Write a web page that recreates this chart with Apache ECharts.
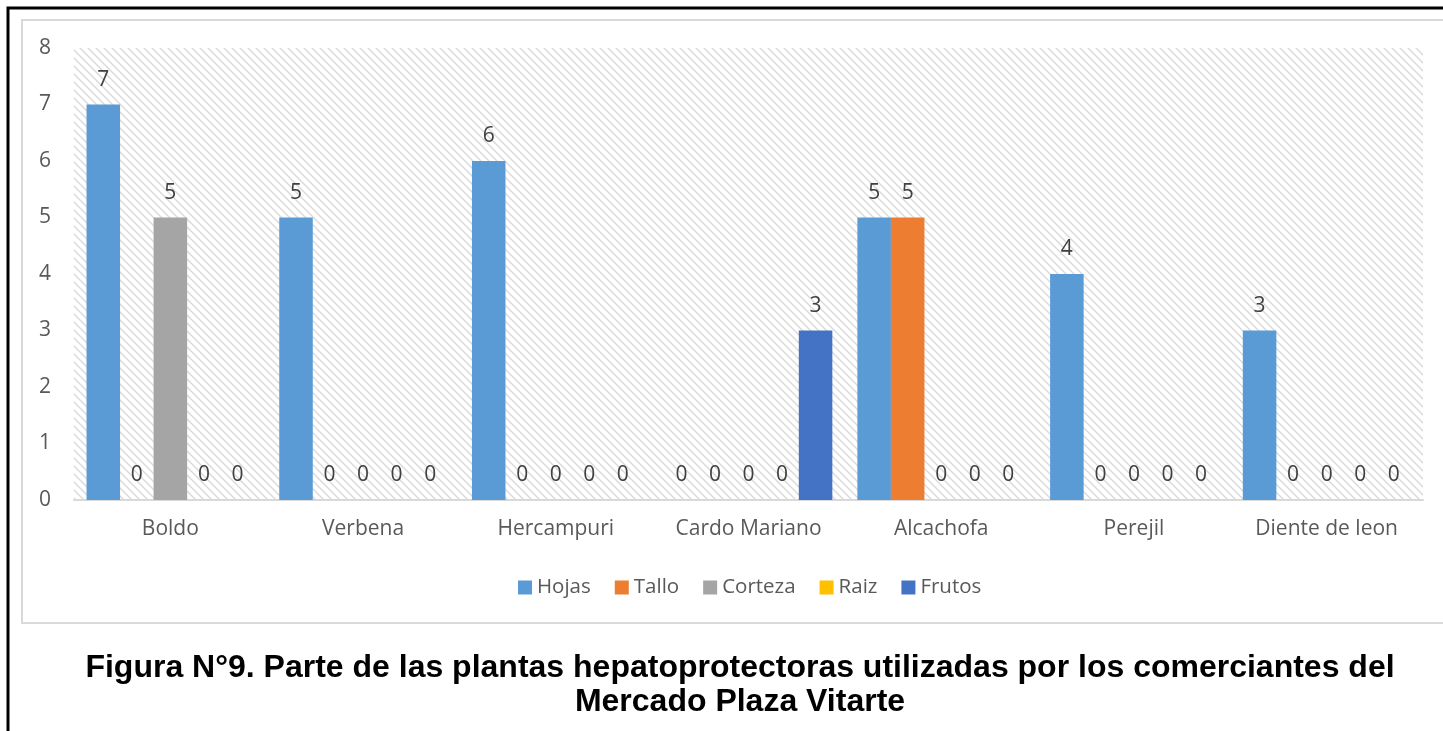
<!DOCTYPE html>
<html><head><meta charset="utf-8">
<script src="https://cdn.jsdelivr.net/npm/echarts@6/dist/echarts.min.js"></script>
<style>html,body{margin:0;padding:0;background:#fff}#c{width:1443px;height:731px}</style>
</head><body><div id="c"></div>
<script>
const categories = ['Boldo','Verbena','Hercampuri','Cardo Mariano','Alcachofa','Perejil','Diente de leon'];
const hojas   = [7,5,6,0,5,4,3];
const tallo   = [0,0,0,0,5,0,0];
const corteza = [5,0,0,0,0,0,0];
const raiz    = [0,0,0,0,0,0,0];
const frutos  = [0,0,0,3,0,0,0];
const seriesNames = ['Hojas','Tallo','Corteza','Raiz','Frutos'];
const seriesData = [hojas,tallo,corteza,raiz,frutos];
const colors = ['#5B9BD5','#ED7D31','#A5A5A5','#FFC000','#4472C4'];
const yTicks = [0,1,2,3,4,5,6,7,8];

// hatch pattern
const pc = document.createElement('canvas');
pc.width = 8; pc.height = 8;
const g = pc.getContext('2d');
g.fillStyle = '#ffffff'; g.fillRect(0,0,8,8);
g.strokeStyle = '#d9d9d9'; g.lineWidth = 1.4;
g.beginPath();
g.moveTo(0,0); g.lineTo(8,8);
g.moveTo(-4,4); g.lineTo(4,12);
g.moveTo(4,-4); g.lineTo(12,4);
g.stroke();

const font = 'Open Sans';
const chart = echarts.init(document.getElementById('c'));
chart.setOption({
  animation: false,
  color: colors,
  textStyle: {fontFamily: font},
  grid: {left: 74, right: 20, top: 48, bottom: 231, show: true, borderWidth: 0,
         backgroundColor: {image: pc, repeat: 'repeat'}},
  xAxis: {type: 'category', data: categories,
    axisLine: {lineStyle: {color: '#d9d9d9', width: 2}}, axisTick: {show: false},
    axisLabel: {color: '#595959', fontSize: 21, margin: 19, fontFamily: font}},
  yAxis: {type: 'value', min: 0, max: 8, interval: 1,
    axisLine: {show: false}, axisTick: {show: false}, splitLine: {show: false},
    axisLabel: {color: '#595959', fontSize: 21, margin: 29, align: 'center',
      formatter: v => String(yTicks[v])}},
  legend: {data: seriesNames, top: 572, left: 513, itemWidth: 14, itemHeight: 14,
    itemGap: 24, icon: 'rect', textStyle: {color: '#595959', fontSize: 20.5, fontFamily: font}},
  title: {text: 'Figura N°9. Parte de las plantas hepatoprotectoras utilizadas por los comerciantes del\nMercado Plaza Vitarte',
    left: 735, top: 646, textAlign: 'center',
    textStyle: {fontFamily: 'Liberation Sans', fontWeight: 'bold', fontSize: 32, color: '#000', lineHeight: 34}},
  graphic: [
    {type: 'rect', shape: {x: 8, y: 8, width: 1460, height: 740}, style: {fill: 'none', stroke: '#000', lineWidth: 3}, z: 100},
    {type: 'rect', shape: {x: 22, y: 20, width: 1440, height: 603}, style: {fill: 'none', stroke: '#d9d9d9', lineWidth: 2}, z: -1}
  ],
  series: seriesNames.map((n,i) => ({
    name: n, type: 'bar', data: seriesData[i], barGap: '0%', barCategoryGap: '13%',
    label: {show: true, position: 'top', distance: 14, color: '#404040', fontSize: 21, fontFamily: font}
  }))
});
</script></body></html>
